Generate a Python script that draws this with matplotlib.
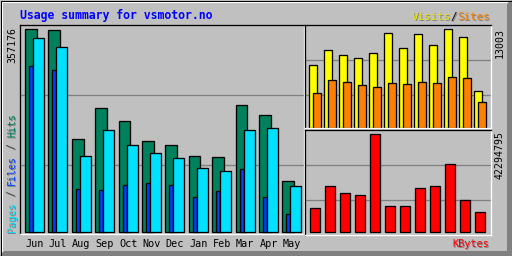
#!/usr/bin/env python3
"""Webalizer-style monthly usage summary (512x256)."""
import matplotlib
matplotlib.use("Agg")
import matplotlib.pyplot as plt
from matplotlib.patches import Polygon, Rectangle

MONTHS = ["Jun", "Jul", "Aug", "Sep", "Oct", "Nov",
          "Dec", "Jan", "Feb", "Mar", "Apr", "May"]
HITS = [357176, 354900, 163100, 217600, 195300, 159600,
        153100, 133700, 131400, 222900, 205300, 89200]
PAGES = [340800, 325000, 133200, 178600, 153100, 139000,
         129700, 112100, 107300, 178900, 182500, 80400]
FILES = [291500, 284500, 75100, 73400, 82200, 86200,
         82700, 61100, 72100, 110800, 61100, 31100]
VISITS = [8240, 10220, 9560, 9170, 9830, 12470,
          10490, 12340, 10890, 13003, 11940, 4810]
SITES = [4540, 6260, 6000, 5600, 5340, 5870,
         5730, 6000, 5870, 6660, 6530, 3360]
KBYTES = [10360000, 19850000, 16830000, 15970000, 42294795, 11220000,
          11220000, 18990000, 19850000, 29350000, 13810000, 8630000]

GREY = "#C0C0C0"
DKGREY = "#808080"
C_HITS = "#00805C"
C_FILES = "#0040FF"
C_PAGES = "#00E0FF"
C_VISITS = "#FFFF00"
C_SITES = "#FF8000"
C_KBYTES = "#FF0000"
PX = 0.72  # one pixel in points at 100 dpi
MONO = "DejaVu Sans Mono"

W, H = 512, 256
fig = plt.figure(figsize=(W / 100, H / 100), dpi=100, facecolor=GREY)

# background / frame in pixel coordinates
bg = fig.add_axes([0, 0, 1, 1])
bg.set_xlim(0, W)
bg.set_ylim(H, 0)
bg.axis("off")
bg.add_patch(Polygon([(W, 0), (W, H), (0, H), (4, H - 5), (W - 5, H - 5), (W - 5, 4)],
                     closed=True, facecolor=DKGREY, edgecolor="none"))
bg.plot([1.5, W - 5], [1.5, 1.5], color="white", lw=PX)
bg.plot([1.5, 1.5], [1.5, H - 5], color="white", lw=PX)
bg.add_patch(Rectangle((0.5, 0.5), W - 1, H - 1, fill=False, edgecolor="black", lw=PX))


def panel(left, top, right, bottom):
    ax = fig.add_axes([left / W, (H - bottom) / H, (right - left) / W, (bottom - top) / H])
    ax.set_facecolor(GREY)
    for side in ("top", "left"):
        ax.spines[side].set_color("black")
    for side in ("bottom", "right"):
        ax.spines[side].set_color("white")
    for s in ax.spines.values():
        s.set_linewidth(PX * 1.3)
    ax.tick_params(length=0)
    ax.set_yticklabels([])
    return ax


def setup_y(ax, vmax, base_px, span_px, height_px, fracs):
    k = vmax / span_px
    ax.set_ylim(-base_px * k, (height_px - base_px) * k)
    ax.set_yticks([vmax * f for f in fracs])
    ax.set_yticklabels([])
    ax.grid(axis="y", color=DKGREY, lw=PX * 1.3)
    ax.set_axisbelow(True)


n = len(MONTHS)
idx = list(range(n))

# ---- main panel: hits / files / pages ----
step = 23.4
ax = panel(20, 25, 304, 234)
ax.set_xlim(-5 / step, (304 - 25) / step)
setup_y(ax, max(HITS), 2, 203, 209, [0.33, 0.673])
bar_kw = dict(align="edge", edgecolor="black", linewidth=PX * 1.3)
ax.bar(idx, HITS, width=11.7 / step, color=C_HITS, **bar_kw)
ax.bar([i + 4 / step for i in idx], FILES, width=4 / step, color=C_FILES, **bar_kw)
ax.bar([i + 8 / step for i in idx], PAGES, width=11 / step, color=C_PAGES, **bar_kw)
ax.set_xticks([i + 9.6 / step for i in idx])
ax.set_xticklabels(MONTHS, family=MONO, fontsize=7.3)
ax.tick_params(axis="x", pad=3.5)

# ---- top right: visits / sites ----
ax2 = panel(305, 25, 491, 128)
ax2.set_xlim((305 - 309.3) / 15, (491 - 309.3) / 15)
setup_y(ax2, max(VISITS), 0.3, 98.4, 103, [0.33, 0.685])
ax2.bar(idx, VISITS, width=7.4 / 15, color=C_VISITS, **bar_kw)
ax2.bar([i + 4 / 15 for i in idx], SITES, width=7.4 / 15, color=C_SITES, **bar_kw)
ax2.set_xticks([])

# ---- bottom right: kbytes ----
ax3 = panel(305, 130, 491, 235)
ax3.set_xlim((305 - 310) / 15, (491 - 310) / 15)
setup_y(ax3, max(KBYTES), 2.7, 98, 105, [0.327, 0.684])
ax3.bar(idx, KBYTES, width=9.7 / 15, color=C_KBYTES, **bar_kw)
ax3.set_xticks([])


def shadow_text(x, y, s, color, **kw):
    bg.text(x + 1, y + 1, s, color=DKGREY, family=MONO, **kw)
    bg.text(x, y, s, color=color, family=MONO, **kw)


# title
bg.text(20, 15.5, "Usage summary for vsmotor.no", color="#0000FF", family=MONO,
        fontweight="bold", fontsize=8.3, ha="left", va="center")

# Visits / Sites legend (right aligned)
fs = 7.8
adv = 0.602 * fs * 100 / 72
xr = 489.5
shadow_text(xr, 17, "Sites", C_SITES, fontsize=fs, ha="right", va="center")
shadow_text(xr - 5 * adv, 17, "/", "black", fontsize=fs, ha="right", va="center")
shadow_text(xr - 6 * adv, 17, "Visits", "#E8E800", fontsize=fs, ha="right", va="center")

# KBytes label
shadow_text(489.5, 244, "KBytes", C_KBYTES, fontsize=7.4, ha="right", va="center")

# left vertical legend
fs = 7.1
adv = 0.602 * fs * 100 / 72
yb = 232
pieces = [("Pages", C_PAGES), (" / ", "#404040"), ("Files", C_FILES),
          (" / ", "#404040"), ("Hits", C_HITS)]
c = 0
for s, col in pieces:
    shadow_text(12, yb - c * adv, s, col, fontsize=fs, rotation=90,
                ha="center", va="bottom")
    c += len(s)

# max value labels
bg.text(12.5, 27, f"{max(HITS)}", family=MONO, fontsize=7.1, rotation=90,
        ha="center", va="top", color="black")
bg.text(500, 27.5, f"{max(VISITS)}", family=MONO, fontsize=7.1, rotation=90,
        ha="center", va="top", color="black")
bg.text(500, 131, f"{max(KBYTES)}", family=MONO, fontsize=7.1, rotation=90,
        ha="center", va="top", color="black")

fig.savefig("out.png", dpi=100, facecolor=GREY)
